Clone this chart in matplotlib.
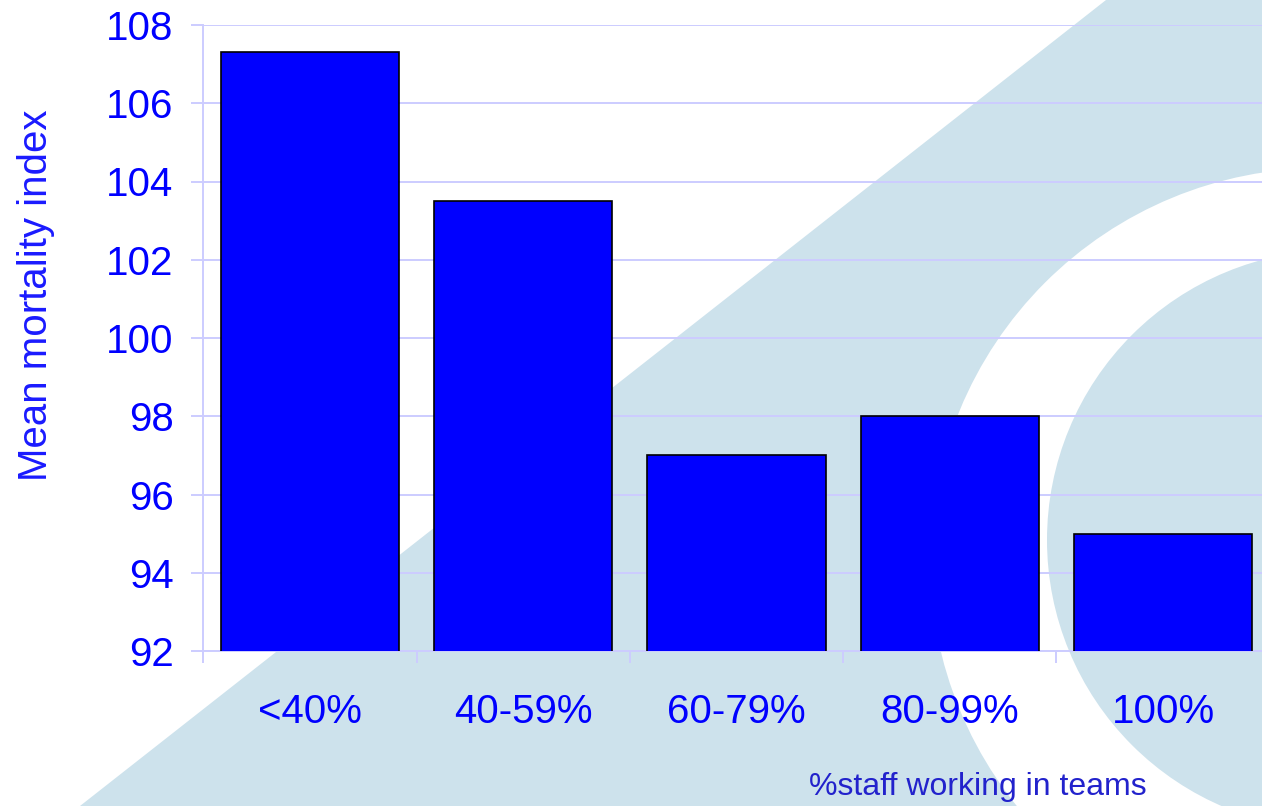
import matplotlib
matplotlib.use("Agg")
import matplotlib.pyplot as plt
from matplotlib.patches import Polygon, Ellipse

plt.rcParams['font.family'] = ['Liberation Sans', 'DejaVu Sans']

categories = ["<40%", "40-59%", "60-79%", "80-99%", "100%"]
values = [107.3, 103.5, 97.0, 98.0, 95.0]
yticks = [92, 94, 96, 98, 100, 102, 104, 106, 108]

W, H = 1262, 806
fig = plt.figure(figsize=(W / 100, H / 100), dpi=100)
fig.patch.set_facecolor('white')

BG = '#cde2ec'

def fx(x):
    return x / W

def fy(y):
    return 1 - y / H

# background decoration (pixel coords, top-origin)
band = Polygon([(fx(80), fy(806)), (fx(1106), fy(0)), (fx(1300), fy(0)), (fx(1300), fy(806))],
               closed=True, transform=fig.transFigure, facecolor=BG, edgecolor='none', zorder=-10)
fig.add_artist(band)
white_c = Ellipse((fx(1322), fy(560)), 2 * 392 / W, 2 * 392 / H, transform=fig.transFigure,
                  facecolor='white', edgecolor='none', zorder=-9)
fig.add_artist(white_c)
inner_c = Ellipse((fx(1337), fy(540)), 2 * 290 / W, 2 * 290 / H, transform=fig.transFigure,
                  facecolor=BG, edgecolor='none', zorder=-8)
fig.add_artist(inner_c)

left, right, top, bottom = 203.4, 203.4 + 5 * 213.25, 25, 651
ax = fig.add_axes([fx(left), fy(bottom), (right - left) / W, (bottom - top) / H])
ax.set_facecolor('none')

grid_c = '#ccccff'
x = list(range(len(categories)))
ax.bar(x, values, width=0.835, bottom=0, color='#0000ff', edgecolor='black', linewidth=1.2, zorder=3)

ax.set_ylim(92, 108)
ax.set_xlim(-0.5, len(categories) - 0.5)
ax.set_yticks(yticks)
ax.set_yticklabels([str(t) for t in yticks])
ax.yaxis.grid(True, color=grid_c, linewidth=1.4, zorder=0)
ax.set_axisbelow(True)

ax.set_xticks(x)
ax.set_xticklabels(categories)
ax.set_xticks([i - 0.5 for i in range(len(categories) + 1)], minor=True)

for s in ['top', 'right']:
    ax.spines[s].set_visible(False)
for s in ['left', 'bottom']:
    ax.spines[s].set_color(grid_c)
    ax.spines[s].set_linewidth(1.4)

ax.tick_params(axis='y', which='major', direction='out', length=8.6, width=1.4, color=grid_c,
               labelsize=29, labelcolor='#0000ff', pad=13)
ax.tick_params(axis='x', which='major', length=0, labelsize=29, labelcolor='#0000ff', pad=30)
ax.tick_params(axis='x', which='minor', direction='out', length=8.6, width=1.4, color=grid_c)

fig.text(fx(36), fy(295), "Mean mortality index", rotation=90, ha='center', va='center',
         fontsize=29, color='#1a1aff')
fig.text(fx(978), fy(795), "%staff working in teams", ha='center', va='baseline',
         fontsize=23, color='#2222cc')

fig.savefig('out.png', dpi=100)
